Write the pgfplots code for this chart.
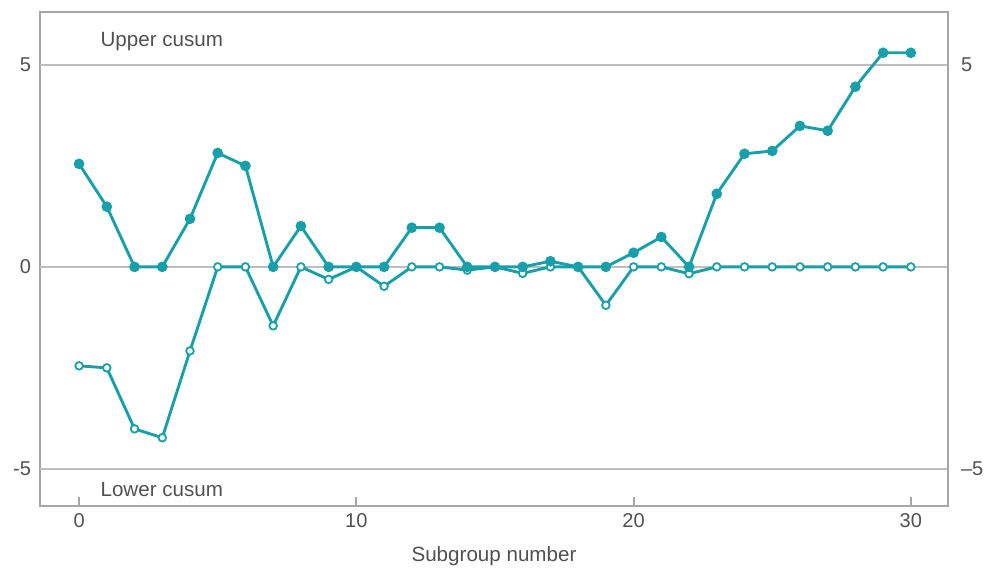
\documentclass[border=0pt]{standalone}
\usepackage{fontspec}
\setmainfont{Liberation Sans}
\usepackage{pgfplots}
\pgfplotsset{compat=1.18}
\usetikzlibrary{calc}
\definecolor{teal1}{HTML}{18A0AA}
\definecolor{gridg}{HTML}{BDBDBD}
\definecolor{axg}{HTML}{A6A6A6}
\definecolor{txt}{HTML}{505050}
\pgfplotsset{cs/.style={
  scale only axis, width=454pt, height=247pt,
  xmin=-1.41, xmax=31.34, ymin=-5.92, ymax=6.31,
  axis line style={axg, line width=1pt},
  /pgf/number format/assume math mode=true,
  tick label style={font=\fontsize{10}{12}\selectfont, text=txt},
  ytick style={draw=none},
}}
\begin{document}
\begin{tikzpicture}
\begin{axis}[cs,
  xtick={0,10,20,30}, xtick pos=bottom, tick align=inside,
  xtick style={axg, line width=1pt}, major tick length=4.5pt,
  ytick={-5,0,5}, yticklabels={-5,0,5}, ytick pos=left,
  yticklabel style={xshift=-1pt},
  xlabel={Subgroup number},
  xlabel style={font=\fontsize{10.3}{12}\selectfont, text=txt, at={(axis description cs:0.5,0)}, anchor=center, yshift=-25pt},
  clip=false,
]
\addplot[gridg, line width=1pt, forget plot] coordinates {(-1.41,5) (31.34,5)};
\addplot[gridg, line width=1pt, forget plot] coordinates {(-1.41,0) (31.34,0)};
\addplot[gridg, line width=1pt, forget plot] coordinates {(-1.41,-5) (31.34,-5)};
% Lower cusum (open)
\addplot[teal1, line width=1.45pt, mark=*, mark size=1.9pt, mark options={fill=white, line width=0.9pt}] coordinates {
(0,-2.45) (1,-2.5) (2,-4.01) (3,-4.23) (4,-2.08) (5,0) (6,0) (7,-1.46) (8,0) (9,-0.31)
(10,0) (11,-0.48) (12,0) (13,0) (14,-0.08) (15,0) (16,-0.16) (17,0) (18,0) (19,-0.95)
(20,0) (21,0) (22,-0.17) (23,0) (24,0) (25,0) (26,0) (27,0) (28,0) (29,0) (30,0)};
% Upper cusum (filled)
\addplot[teal1, line width=1.45pt, mark=*, mark size=1.9pt, mark options={fill=teal1}] coordinates {
(0,2.55) (1,1.49) (2,0) (3,0) (4,1.19) (5,2.82) (6,2.5) (7,0) (8,1.01) (9,0)
(10,0) (11,0) (12,0.97) (13,0.97) (14,0) (15,0) (16,0) (17,0.14) (18,0) (19,0)
(20,0.35) (21,0.74) (22,0) (23,1.81) (24,2.8) (25,2.87) (26,3.49) (27,3.37) (28,4.46) (29,5.3) (30,5.3)};
\node[anchor=west, inner sep=0pt, text=txt, font=\fontsize{10.3}{12}\selectfont] at (axis cs:0.76,5.57) {Upper cusum};
\node[anchor=west, inner sep=0pt, text=txt, font=\fontsize{10.3}{12}\selectfont] at (axis cs:0.76,-5.52) {Lower cusum};
\end{axis}
\begin{axis}[cs,
  xtick=\empty, axis x line=none, axis y line*=right,
  ytick={-5,5}, yticklabels={–5,5}, yticklabel pos=right,
  yticklabel style={xshift=3pt},
]
\addplot[draw=none] coordinates {(0,0)};
\end{axis}
\pgfresetboundingbox
\path ($(current axis.south west)+(-20pt,-32pt)$) rectangle ($(current axis.north east)+(18.5pt,6pt)$);
\end{tikzpicture}
\end{document}
